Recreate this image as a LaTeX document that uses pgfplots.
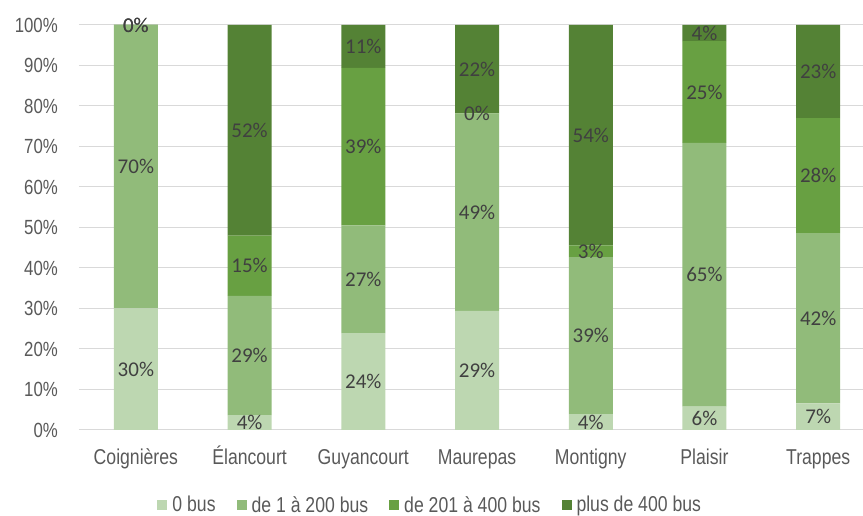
\documentclass[border=0pt]{standalone}
\usepackage{fontspec}
\setmainfont{Liberation Sans}
\newfontfamily\narrow[FakeStretch=0.82]{Liberation Sans}
\newfontfamily\calib{Carlito}
\usepackage{pgfplots}
\usepackage{pgfplotstable}
\pgfplotsset{compat=1.18}

\definecolor{cZero}{HTML}{BDD7B1}
\definecolor{cLow}{HTML}{91BB7A}
\definecolor{cMid}{HTML}{68A042}
\definecolor{cHigh}{HTML}{548235}
\definecolor{gridgray}{HTML}{D9D9D9}
\definecolor{txtgray}{HTML}{595959}
\definecolor{lblgray}{HTML}{404040}

% share of bus per commune (%), 0.01 stands for the 0% segments
\pgfplotstableread{
x zero low mid high
0 30.0 70.0 0.01 0.01
1 3.7 29.4 14.9 52.0
2 23.9 26.6 38.9 10.6
3 29.4 48.8 0.01 21.8
4 3.9 38.8 2.9 54.4
5 5.8 65.1 25.1 4.0
6 6.6 42.0 28.4 23.0
}\busdata

\begin{document}
\begin{tikzpicture}
\begin{axis}[
    at={(0,0)}, anchor=south west,
    scale only axis,
    width=784pt, height=405pt,
    ybar stacked,
    bar width=44pt,
    xmin=-0.5, xmax=6.394,
    ymin=0, ymax=100,
    enlargelimits=false,
    clip=false,
    axis line style={draw=none},
    major tick length=0pt,
    ymajorgrids,
    grid style={gridgray, line width=1pt},
    ytick={0,10,...,100},
    yticklabel={\pgfmathprintnumber{\tick}\%},
    /pgf/number format/assume math mode=true,
    yticklabel style={font=\narrow\fontsize{20.5}{24}\selectfont, text=txtgray, inner sep=0pt, xshift=-21pt},
    xtick=data,
    xticklabels={Coignières, Élancourt, Guyancourt, Maurepas, Montigny, Plaisir, Trappes},
    xticklabel style={font=\narrow\fontsize{21.5}{24}\selectfont, text=txtgray, inner sep=0pt, anchor=base, yshift=-35pt},
    point meta=rawy,
    nodes near coords={\pgfmathprintnumber[fixed,precision=0]{\pgfplotspointmeta}\%},
    every node near coord/.append style={anchor=center,
        font=\calib\fontsize{21}{24}\selectfont, text=lblgray, inner sep=0pt},
    legend columns=-1,
    legend style={at={(0.448,-0.185)}, anchor=center, draw=none, fill=none,
        font=\narrow\fontsize{21.5}{24}\selectfont, text=txtgray,
        /tikz/every odd column/.append style={column sep=3pt},
        /tikz/every even column/.append style={column sep=19pt}},
    legend image code/.code={\fill[#1] (0pt,-5pt) rectangle (10pt,5pt);},
]
\addplot[fill=cZero, draw=none] table[x=x, y=zero] {\busdata};
\addlegendentry{0 bus}
\addplot[fill=cLow, draw=none] table[x=x, y=low] {\busdata};
\addlegendentry{de 1 à 200 bus}
\addplot[fill=cMid, draw=none] table[x=x, y=mid] {\busdata};
\addlegendentry{de 201 à 400 bus}
\addplot[fill=cHigh, draw=none] table[x=x, y=high] {\busdata};
\addlegendentry{plus de 400 bus}
\end{axis}
\pgfresetboundingbox
\path (-79pt,-86pt) rectangle (784pt,430pt);
\end{tikzpicture}
\end{document}
